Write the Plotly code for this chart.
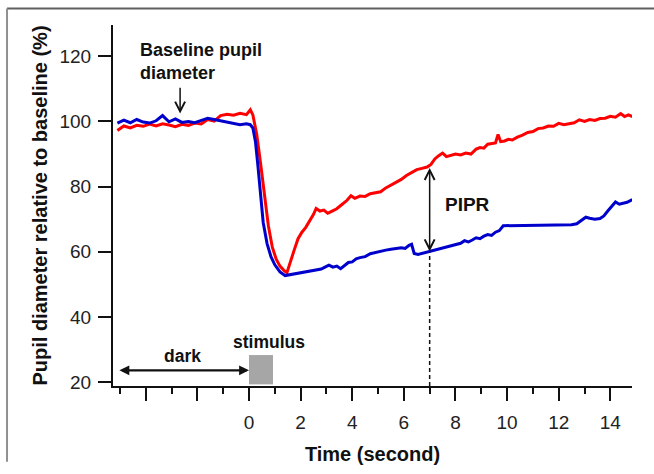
import plotly.graph_objects as go

# ==============================
# DATA
# ==============================

red_time = [
    -5.1, -4.85, -4.6, -4.35, -4.1, -3.85, -3.6, -3.35, -3.1, -2.85, -2.6, -2.35,
    -2.1, -1.85, -1.6, -1.35, -1.1, -0.85, -0.6, -0.35, -0.1, 0.05, 0.15,
    0.3, 0.45, 0.6, 0.75, 0.9, 1.05, 1.2, 1.35, 1.47, 1.6, 1.75, 1.9, 2.05, 2.2,
    2.35, 2.5, 2.6, 2.75, 2.9, 3.05, 3.2, 3.4, 3.6, 3.8, 3.95, 4.1, 4.3, 4.5,
    4.7, 4.9, 5.1, 5.3, 5.5, 5.7, 5.9, 6.1, 6.3, 6.5, 6.7, 6.9, 7.05, 7.2,
    7.35, 7.5, 7.65, 7.8, 8.0, 8.2, 8.4, 8.6, 8.8, 8.95, 9.1, 9.25, 9.4, 9.55,
    9.65, 9.75, 9.9, 10.05, 10.2, 10.4, 10.6, 10.8, 11.0, 11.2, 11.4, 11.6,
    11.8, 12.0, 12.2, 12.4, 12.6, 12.8, 13.0, 13.2, 13.4, 13.6, 13.8, 14.0,
    14.2, 14.4, 14.55, 14.7, 14.85,
]
red_pct = [
    97.2, 98.6, 98.0, 98.8, 98.5, 99.2, 98.6, 99.3, 98.9, 98.4, 99.1, 98.8,
    99.5, 99.2, 100.6, 100.1, 101.8, 102.2, 101.9, 102.5, 102.1, 103.6, 102.0,
    96.0, 87.0, 76.5, 68.0, 61.5, 57.8, 55.6, 54.3, 53.6, 56.5, 60.5, 64.0, 66.0,
    67.5, 69.5, 71.5, 73.3, 72.5, 72.8, 71.8, 72.4, 73.2, 74.5, 75.8, 77.2, 76.4,
    77.1, 77.0, 77.8, 78.0, 78.4, 79.6, 80.5, 81.3, 82.2, 83.4, 84.3, 85.2, 85.6,
    86.0, 86.8, 88.5, 89.5, 90.3, 89.2, 89.6, 90.0, 89.7, 90.3, 90.0, 91.5,
    92.0, 91.8, 93.0, 93.3, 93.4, 96.0, 93.8, 94.0, 94.5, 94.3, 95.2, 95.8,
    96.6, 96.9, 97.8, 98.0, 98.6, 98.5, 99.4, 99.0, 99.3, 99.6, 100.5, 100.0,
    100.6, 100.3, 100.9, 101.0, 101.6, 101.3, 102.4, 101.5, 102.0, 101.5,
]

blue_time = [
    -5.1, -4.85, -4.6, -4.35, -4.1, -3.85, -3.6, -3.35, -3.1, -2.85, -2.6, -2.35,
    -2.1, -1.85, -1.6, -1.35, -1.1, -0.85, -0.6, -0.35, -0.1, 0.05, 0.15,
    0.25, 0.35, 0.45, 0.55, 0.7, 0.85, 1.0, 1.2, 1.4, 1.6, 1.8, 2.0, 2.2, 2.4,
    2.6, 2.8, 3.0, 3.1, 3.25, 3.4, 3.55, 3.7, 3.85, 4.0, 4.15, 4.3, 4.5, 4.7,
    4.9, 5.1, 5.3, 5.5, 5.7, 5.9, 6.05, 6.2, 6.3, 6.4, 6.55, 6.7, 6.85, 7.0,
    7.2, 7.4, 7.6, 7.8, 8.0, 8.2, 8.35, 8.5, 8.65, 8.8, 8.95, 9.1, 9.25, 9.4,
    9.55, 9.7, 9.85, 10.5, 11.5, 12.5, 12.7, 12.9, 13.05, 13.2, 13.4, 13.6,
    13.75, 13.9, 14.05, 14.2, 14.35, 14.5, 14.65, 14.85,
]
blue_pct = [
    99.5, 100.4, 99.6, 100.6, 99.8, 99.5, 100.2, 101.8, 99.9, 100.8, 99.7, 100.0,
    99.6, 100.4, 101.0, 100.6, 100.2, 99.7, 99.4, 99.0, 99.3, 99.0, 98.0,
    93.8, 86.0, 78.5, 69.0, 62.5, 58.5, 56.0, 53.8, 52.7, 53.0, 53.3, 53.6, 53.9,
    54.2, 54.5, 54.7, 55.5, 55.9, 55.3, 55.6, 54.8, 55.8, 56.7, 56.9, 57.8, 58.2,
    58.5, 59.4, 59.8, 60.3, 60.5, 60.8, 61.0, 61.2, 61.0, 62.0, 62.3, 59.5, 59.2,
    59.5, 59.8, 60.1, 60.5, 60.9, 61.3, 61.6, 62.0, 62.6, 63.4, 63.0, 63.6, 64.3,
    64.0, 64.8, 65.3, 65.0, 66.0, 66.5, 68.0, 68.1, 68.2, 68.3, 68.6, 69.8, 70.6,
    70.3, 70.0, 70.2, 71.0, 72.5, 74.0, 75.3, 74.6, 75.0, 75.2, 76.0,
]

x_tick_vals = [-4, -2, 0, 2, 4, 6, 8, 10, 12, 14]
x_tick_text = ["", "", "0", "2", "4", "6", "8", "10", "12", "14"]
x_minor_vals = [-5, -3, -1, 1, 3, 5, 7, 9, 11, 13]
y_tick_vals = [20, 40, 60, 80, 100, 120]

pipr_time = 7.0
pipr_top = 86.2
pipr_bottom = 60.1
stim_start, stim_end = 0.0, 0.93

FONT = "Liberation Sans, Arial, sans-serif"
X_RANGE = [-5.27, 14.84]
Y_RANGE = [18.8, 129.6]

# ==============================
# BUILD GRAPH
# ==============================

fig = go.Figure()

fig.add_trace(go.Scatter(
    x=red_time, y=red_pct, mode="lines",
    line=dict(color="#ff0000", width=3),
    showlegend=False
))

fig.add_trace(go.Scatter(
    x=blue_time, y=blue_pct, mode="lines",
    line=dict(color="#0000cc", width=3),
    showlegend=False
))

# stimulus box
fig.add_shape(type="rect", x0=stim_start, x1=stim_end, y0=19.3, y1=28.3,
              fillcolor="#a6a6a6", line=dict(width=0), layer="below")

# dashed line under the PIPR arrow
fig.add_shape(type="line", x0=pipr_time, x1=pipr_time, y0=Y_RANGE[0], y1=pipr_bottom,
              line=dict(color="#111111", width=1.5, dash="4px,3px"))

# outer frame (top and left edges only, as in the crop)
fig.add_shape(type="line", xref="paper", yref="paper", x0=-0.2042, x1=1.05,
              y0=1.0457, y1=1.0457, line=dict(color="#606060", width=2))
fig.add_shape(type="line", xref="paper", yref="paper", x0=-0.2042, x1=-0.2042,
              y0=1.0457, y1=-0.21, line=dict(color="#909090", width=2))

note = dict(family=FONT, size=17.5, color="#111111")

fig.add_annotation(x=-4.3, y=118.3, text="<b>Baseline pupil<br>diameter</b>",
                   showarrow=False, xanchor="left", align="left",
                   font=dict(family=FONT, size=18, color="#111111"))
fig.add_annotation(x=-2.67, y=102.4, ax=-2.67, ay=110.8, axref="x", ayref="y",
                   text="", showarrow=True, arrowhead=5, arrowsize=1.3,
                   arrowwidth=1.5, arrowcolor="#111111")

fig.add_annotation(x=-2.56, y=28.0, text="<b>dark</b>", showarrow=False, font=note)
fig.add_annotation(x=0, y=23.6, ax=-5.08, ay=23.6, axref="x", ayref="y",
                   text="", showarrow=True, arrowhead=2, startarrowhead=2,
                   arrowside="end+start", arrowsize=0.9, arrowwidth=2.2,
                   arrowcolor="#111111")

fig.add_annotation(x=0.78, y=32.2, text="<b>stimulus</b>", showarrow=False, font=note)

fig.add_annotation(x=8.45, y=74.5, text="<b>PIPR</b>", showarrow=False,
                   font=dict(family=FONT, size=19, color="#111111"))
fig.add_annotation(x=pipr_time, y=pipr_bottom, ax=pipr_time, ay=pipr_top,
                   axref="x", ayref="y", text="", showarrow=True,
                   arrowhead=5, startarrowhead=5, arrowside="end+start",
                   arrowsize=1.3, arrowwidth=1.5, arrowcolor="#111111")

# ==============================
# STYLE
# ==============================

axis_common = dict(
    showline=True, linecolor="#111111", linewidth=2,
    ticks="outside", ticklen=13, tickwidth=2, tickcolor="#111111",
    showgrid=False, zeroline=False,
    tickfont=dict(family=FONT, size=19, color="#222222"),
)

fig.update_layout(
    width=654, height=474,
    margin=dict(l=113, r=22, t=25, b=77),
    paper_bgcolor="white", plot_bgcolor="white",
    xaxis=dict(
        range=X_RANGE, tickmode="array", tickvals=x_tick_vals, ticktext=x_tick_text,
        minor=dict(tickmode="array", tickvals=x_minor_vals, ticks="outside",
                   ticklen=6, tickwidth=2, tickcolor="#111111"),
        ticklabelstandoff=5,
        title=dict(text="<b>Time (second)</b>", standoff=15,
                   font=dict(family=FONT, size=20, color="#111111")),
        **axis_common
    ),
    yaxis=dict(
        range=Y_RANGE, tickmode="array", tickvals=y_tick_vals,
        ticklabelstandoff=3,
        title=dict(text="<b>Pupil diameter relative to baseline (%)</b>", standoff=6,
                   font=dict(family=FONT, size=20, color="#111111")),
        **axis_common
    ),
)

# page body margin off so the figure sits at the window origin
fig.write_html("out.html", config={"displayModeBar": False},
               post_script="document.body.style.margin = '0';")
